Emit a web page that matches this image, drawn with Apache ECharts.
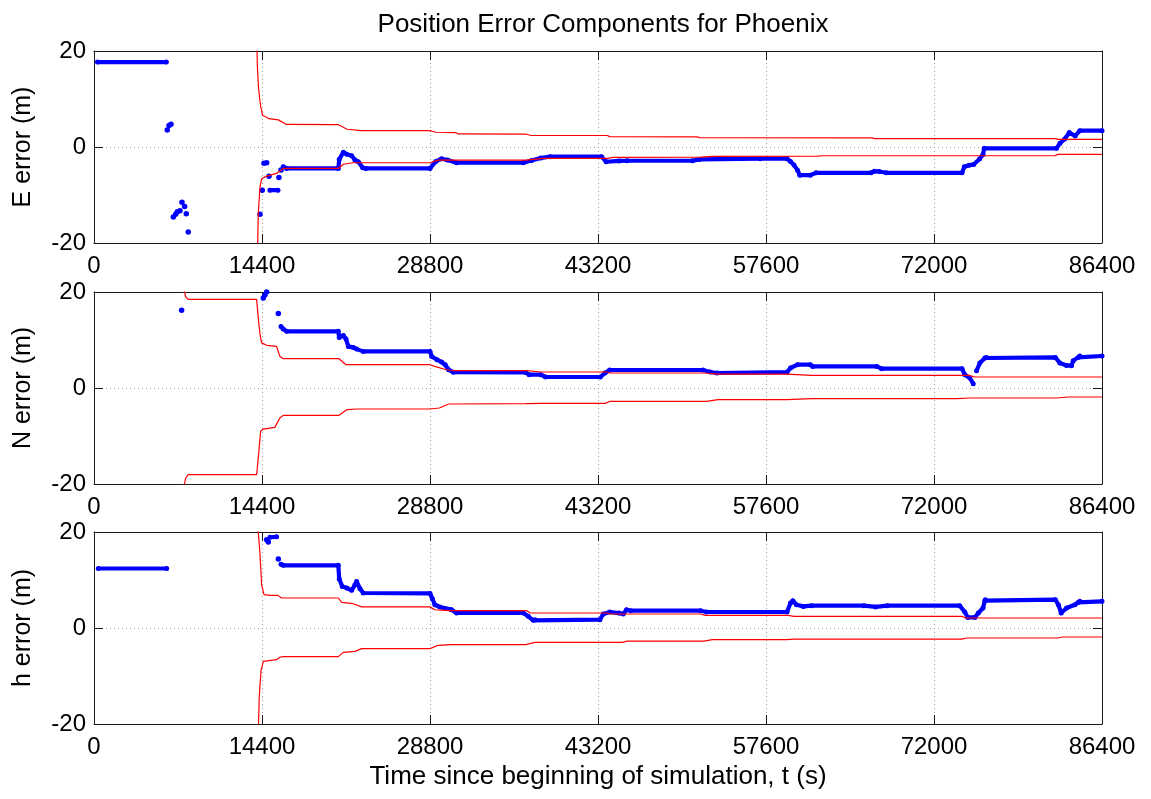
<!DOCTYPE html>
<html>
<head>
<meta charset="utf-8">
<title>Position Error Components for Phoenix</title>
<script src="https://cdn.jsdelivr.net/npm/echarts@6/dist/echarts.min.js"></script>
<style>
  html, body { margin: 0; padding: 0; background: #fff; }
  #chart { width: 1151px; height: 799px; }
</style>
</head>
<body>
<div id="chart"></div>
<script>
// Axis ticks (time in seconds, error in metres)
const xTicks = [0, 14400, 28800, 43200, 57600, 72000, 86400];
const yTicks = [-20, 0, 20];

const chartTitle = 'Position Error Components for Phoenix';
const xTitle = 'Time since beginning of simulation, t (s)';
const panelNames = ['E error (m)', 'N error (m)', 'h error (m)'];

// ---- East component ----
// Continuous runs of the solution error (null = gap in the solution)
const eTrack = [
  [300, 17.7], [6200, 17.7], null,
  [15080, -9.0], [15770, -9.0], null,
  [16220, -4.1], [16510, -4.47], [20940, -4.47],
  [21020, -2.58], [21370, -1.1], [21660, -1.5], [22080, -1.8], [22370, -2.7],
  [22650, -3.07], [23030, -4.3], [23300, -4.47], [28800, -4.47],
  [29300, -3.0], [29800, -2.44], [30300, -2.7], [31080, -3.28], [36800, -3.28],
  [37500, -2.8], [38300, -2.3], [39100, -2.02], [43500, -2.02], [43900, -3.07],
  [45000, -2.9], [45700, -2.86], [51300, -2.86], [51900, -2.58], [57100, -2.44],
  [59400, -2.44], [59700, -3.0], [60000, -3.77], [60300, -4.82], [60500, -5.86],
  [61400, -5.86], [61900, -5.37], [66600, -5.37], [66900, -5.03], [67300, -5.1],
  [67900, -5.37], [74400, -5.37], [74600, -4.12], [75000, -3.8], [75400, -3.63],
  [75900, -2.5], [76200, -1.54], [76300, -0.28], [82500, -0.28], [82800, 0.77],
  [83200, 1.67], [83600, 3.0], [84100, 2.3], [84500, 3.4], [86400, 3.4]
];
// Isolated fixes
const eDots = [
  [6280, 3.56], [6430, 4.5], [6600, 4.75],
  [6800, -14.6], [7000, -14.0], [7140, -13.5], [7370, -13.3], [7540, -11.5],
  [7770, -12.4], [7910, -13.9], [8080, -17.7],
  [14230, -14.0], [14420, -9.0], [14570, -3.4], [14800, -3.3], [15000, -6.07],
  [15850, -6.35], [16030, -4.8]
];
// Error bounds
const eUpper = [
  [13900, 30], [14000, 17], [14100, 12.5], [14200, 10], [14300, 8.3], [14450, 6.6],
  [14700, 6.3], [15000, 5.9], [15800, 5.65], [16500, 4.7], [20900, 4.67],
  [21700, 3.7], [22900, 3.4], [28800, 3.4], [29300, 3.07], [31000, 3.0],
  [31200, 2.72], [37000, 2.7], [37400, 2.44], [44000, 2.4], [44200, 2.16],
  [51700, 2.12], [51900, 1.96], [66700, 1.9], [66900, 1.75], [82400, 1.75],
  [82600, 1.6], [86400, 1.6]
];
const eLower = [
  [13950, -30], [14080, -13.9], [14230, -8.3], [14370, -6.6], [14800, -6.07],
  [15650, -5.5], [16220, -4.47], [20940, -4.47], [21370, -3.6], [22220, -3.28],
  [28800, -3.28], [29500, -2.72], [37000, -2.72], [38500, -2.37], [44000, -2.37],
  [44500, -2.16], [52000, -2.1], [53000, -1.96], [62000, -1.9], [62500, -1.82],
  [82400, -1.8], [82600, -1.54], [86400, -1.54]
];

// ---- North component ----
const nTrack = [
  [16030, 12.8], [16220, 12.3], [16510, 11.8], [20940, 11.8],
  [21020, 10.5], [21370, 10.96], [21600, 10.2], [21800, 8.67], [22220, 8.46],
  [22510, 8.1], [23080, 7.63], [28800, 7.63], [28950, 6.58], [29400, 5.9],
  [29800, 5.4], [30100, 4.85], [30400, 3.8], [30800, 3.3], [37000, 3.25],
  [37300, 2.77], [38300, 2.77], [38700, 2.29], [43400, 2.29], [43800, 3.13],
  [44200, 3.75], [52200, 3.75], [52800, 3.33], [53400, 3.13], [59400, 3.3],
  [59700, 4.17], [60300, 4.85], [61400, 4.85], [61600, 4.5], [67100, 4.5],
  [67500, 4.02], [74400, 4.02], [74640, 2.77], [75070, 2.08], [75360, 0.9], null,
  [75650, 3.6], [75930, 5.2], [76360, 6.25], [76500, 6.38], [82400, 6.38],
  [82790, 5.2], [83360, 4.7], [83790, 4.65], [83930, 5.7], [84350, 6.38],
  [84500, 6.67], [86400, 6.67]
];
const nDots = [
  [7510, 16.2], [14510, 18.75], [14650, 19.4], [14800, 20.0], [15800, 15.5]
];
const nUpper = [
  [7700, 21], [7760, 20], [7850, 19], [8080, 18.46], [13940, 18.46],
  [14080, 14.6], [14230, 11.1], [14370, 9.4], [14800, 8.9], [15650, 8.67],
  [15930, 6.6], [16220, 6.1], [21000, 6.1], [21600, 4.85], [28800, 4.85],
  [29200, 4.5], [30200, 3.8], [30800, 3.6], [37100, 3.6], [38300, 3.33],
  [44000, 3.33], [44200, 3.13], [52300, 3.13], [53500, 2.9], [59400, 2.9],
  [61500, 2.63], [75000, 2.63], [75500, 2.29], [86400, 2.29]
];
const nLower = [
  [7700, -21], [7760, -20], [7850, -18.8], [8080, -18.06], [13940, -18.06],
  [14080, -14.6], [14280, -9.0], [14510, -8.55], [15500, -8.2], [15930, -6.25],
  [16220, -5.7], [21000, -5.7], [21700, -4.5], [22500, -4.38], [28800, -4.38],
  [29600, -4.17], [30400, -3.33], [37000, -3.27], [38500, -3.2], [43800, -3.2],
  [44200, -2.8], [52500, -2.8], [53500, -2.44], [59400, -2.44], [61500, -2.23],
  [74000, -2.23], [75000, -2.08], [82500, -2.08], [83500, -1.88], [86400, -1.88]
];

// ---- Height component ----
const hTrack = [
  [370, 12.4], [6230, 12.4], null,
  [15080, 18.9], [15650, 19.0], null,
  [16030, 13.3], [16220, 13.05], [20940, 13.05],
  [21020, 10.2], [21280, 8.67], [21660, 8.33], [22080, 7.84], [22370, 9.0],
  [22510, 9.7], [22800, 8.19], [23080, 7.29], [28800, 7.2], [29000, 6.1],
  [29220, 4.85], [29650, 4.38], [30650, 3.82], [31080, 3.13], [36800, 3.13],
  [37220, 2.43], [37650, 1.6], [37800, 1.73], [43360, 1.73], [43650, 2.92],
  [44220, 3.33], [45000, 3.1], [45360, 2.92], [45650, 3.82], [46000, 3.6],
  [52000, 3.6], [52500, 3.33], [59400, 3.33], [59700, 5.2], [59900, 5.69],
  [60200, 4.85], [60800, 4.5], [61500, 4.65], [66000, 4.65], [67000, 4.4],
  [68000, 4.65], [74200, 4.65], [74640, 3.33], [74900, 2.2], [75500, 2.2],
  [75800, 3.13], [76200, 4.17], [76360, 5.69], [76400, 5.9], [82400, 5.9],
  [82660, 4.85], [82900, 3.13], [83360, 4.17], [84070, 4.85], [84350, 5.33],
  [84500, 5.55], [86400, 5.55]
];
const hDots = [
  [14800, 18.4], [14940, 17.9], [15800, 14.4]
];
const hUpper = [
  [14000, 30], [14080, 20], [14230, 15.3], [14370, 9.0], [14570, 6.94],
  [15080, 6.8], [15770, 6.8], [16080, 6.25], [20940, 6.25], [21230, 5.33],
  [22220, 5.06], [22940, 4.4], [28800, 4.4], [29200, 3.8], [30400, 3.6],
  [37100, 3.6], [37400, 3.13], [44000, 3.13], [44300, 2.92], [52000, 2.92],
  [52400, 2.63], [59500, 2.63], [60000, 2.43], [74400, 2.43], [74700, 2.08],
  [86400, 2.08]
];
const hLower = [
  [14000, -30], [14160, -14.6], [14310, -9.0], [14510, -6.94], [15650, -6.6],
  [15930, -6.1], [16220, -5.97], [20940, -5.97], [21370, -5.08], [22370, -4.87],
  [22940, -4.3], [28800, -4.3], [29500, -3.6], [30600, -3.47], [37000, -3.47],
  [37800, -3.0], [45300, -3.0], [45700, -2.72], [52300, -2.72], [53000, -2.44],
  [59400, -2.44], [60000, -2.3], [74400, -2.3], [74800, -2.08], [82600, -2.08],
  [83000, -1.88], [86400, -1.88]
];

const panels = [
  { track: eTrack, dots: eDots, upper: eUpper, lower: eLower },
  { track: nTrack, dots: nDots, upper: nUpper, lower: nLower },
  { track: hTrack, dots: hDots, upper: hUpper, lower: hLower }
];

// ---- Layout and styling ----
const FONT = '"Liberation Sans", Arial, Helvetica, sans-serif';
const FRAME = { color: '#1a1a1a', width: 1 };
const GRID_TOPS = [51, 292, 532];
const GRID_H = 192;
const BLUE = '#0000ff';
const RED = '#ff0000';

// null marks a break in the line
const withGaps = arr => arr.map(p => (p === null ? ['-', '-'] : p));

const xMin = xTicks[0], xMax = xTicks[xTicks.length - 1], xStep = xTicks[1] - xTicks[0];
const yMin = yTicks[0], yMax = yTicks[yTicks.length - 1], yStep = yTicks[1] - yTicks[0];

const grids = [], xAxes = [], yAxes = [], series = [];

panels.forEach((p, i) => {
  grids.push({
    left: 94, width: 1008, top: GRID_TOPS[i], height: GRID_H,
    containLabel: false, outerBoundsMode: 'none',
    show: true, backgroundColor: '#fff', borderWidth: 0
  });
});

const tickStyle = { show: true, inside: true, length: 9, lineStyle: FRAME };
const gridLine = { show: true, lineStyle: { color: '#9a9a9a', width: 1, type: [1, 3] } };

// bottom / left axes carry labels and grid lines
panels.forEach((p, i) => {
  const x = {
    gridIndex: i, type: 'value', position: 'bottom',
    min: xMin, max: xMax, interval: xStep,
    axisLine: { show: true, onZero: false, lineStyle: FRAME },
    axisTick: tickStyle,
    axisLabel: { show: true, fontSize: 24, color: '#000', fontFamily: FONT, margin: 11,
      formatter: v => String(v) },
    splitLine: gridLine
  };
  if (i === 2) {
    x.name = xTitle;
    x.nameLocation = 'middle';
    x.nameGap = 40;
    x.nameTextStyle = { fontSize: 26, color: '#000', fontFamily: FONT };
  }
  xAxes.push(x);
  yAxes.push({
    gridIndex: i, type: 'value', position: 'left',
    min: yMin, max: yMax, interval: yStep,
    axisLine: { show: true, onZero: false, lineStyle: FRAME },
    axisTick: tickStyle,
    axisLabel: { show: true, fontSize: 24, color: '#000', fontFamily: FONT, margin: 8,
      formatter: v => String(v) },
    splitLine: gridLine,
    name: panelNames[i], nameLocation: 'middle', nameGap: 58,
    nameTextStyle: { fontSize: 25, color: '#000', fontFamily: FONT }
  });
});
// top / right axes close the box with inward ticks
panels.forEach((p, i) => {
  xAxes.push({
    gridIndex: i, type: 'value', position: 'top',
    min: xMin, max: xMax, interval: xStep,
    axisLine: { show: true, onZero: false, lineStyle: FRAME },
    axisTick: tickStyle, axisLabel: { show: false }, splitLine: { show: false }
  });
  yAxes.push({
    gridIndex: i, type: 'value', position: 'right',
    min: yMin, max: yMax, interval: yStep,
    axisLine: { show: true, onZero: false, lineStyle: FRAME },
    axisTick: tickStyle, axisLabel: { show: false }, splitLine: { show: false }
  });
});

panels.forEach((p, i) => {
  series.push({
    type: 'line', xAxisIndex: i, yAxisIndex: i, z: 2,
    data: withGaps(p.track), connectNulls: false,
    showSymbol: true, showAllSymbol: true, symbol: 'circle', symbolSize: 5,
    itemStyle: { color: BLUE, opacity: 1 },
    lineStyle: { color: BLUE, width: 4.2, cap: 'round', join: 'round' },
    emphasis: { disabled: true }, clip: true
  });
  series.push({
    type: 'scatter', xAxisIndex: i, yAxisIndex: i, z: 2,
    data: p.dots, symbol: 'circle', symbolSize: 5.5,
    itemStyle: { color: BLUE, opacity: 1 }, emphasis: { disabled: true }, clip: true
  });
  [p.upper, p.lower].forEach(b => {
    series.push({
      type: 'line', xAxisIndex: i, yAxisIndex: i, z: 3,
      data: b, showSymbol: false,
      lineStyle: { color: RED, width: 1.2 },
      emphasis: { disabled: true }, clip: true
    });
  });
});

const chart = echarts.init(document.getElementById('chart'), null, { renderer: 'canvas' });
chart.setOption({
  animation: false,
  backgroundColor: '#fff',
  title: {
    text: chartTitle, left: 598, top: 7, textAlign: 'center',
    textStyle: { fontSize: 26, fontWeight: 'normal', color: '#000', fontFamily: FONT }
  },
  grid: grids,
  xAxis: xAxes,
  yAxis: yAxes,
  series: series
});
</script>
</body>
</html>
